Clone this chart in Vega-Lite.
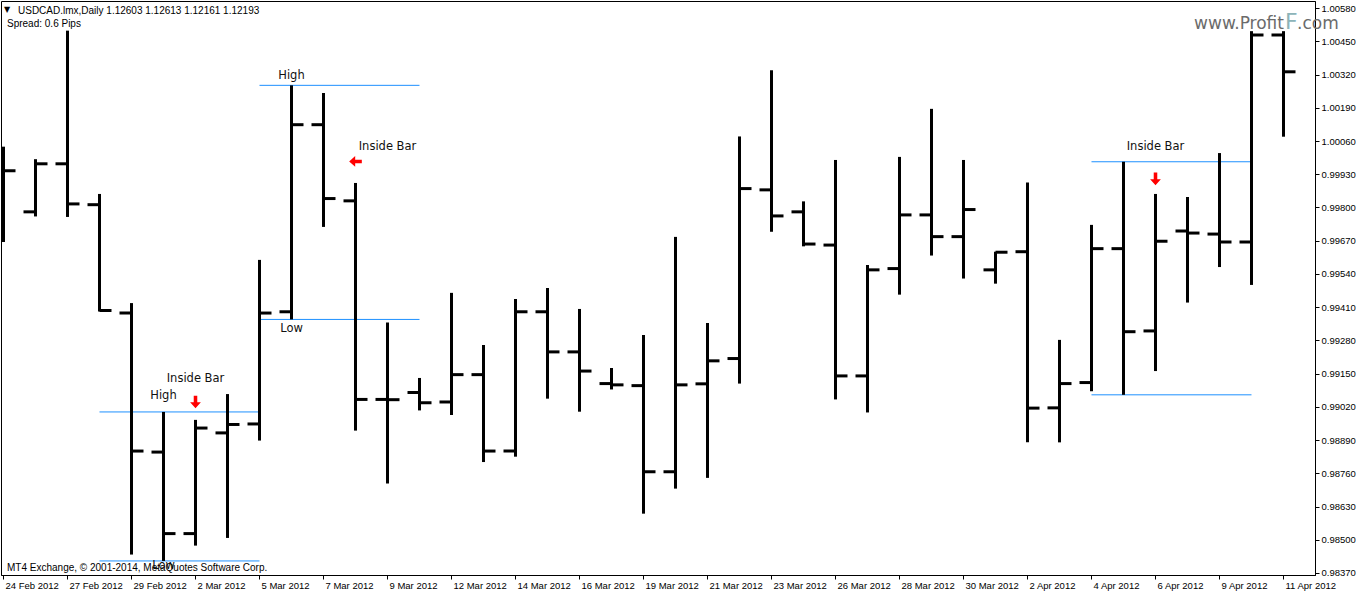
{
  "$schema": "https://vega.github.io/schema/vega-lite/v6.json",
  "width": 1314,
  "height": 574,
  "autosize": {"type": "none"},
  "padding": {"left": 1, "top": 1, "right": 43, "bottom": 19},
  "background": "white",
  "config": {"view": {"stroke": "black", "strokeWidth": 1}, "font": "Liberation Sans"},
  "datasets": {
    "bars": [
      {"date":"24 Feb 2012","open":0.99829,"high":1.00038,"low":0.99665,"close":0.99944},
      {"date":"26 Feb 2012","open":0.99783,"high":0.99989,"low":0.99765,"close":0.99971},
      {"date":"27 Feb 2012","open":0.99971,"high":1.00492,"low":0.99763,"close":0.99814},
      {"date":"28 Feb 2012","open":0.99811,"high":0.99853,"low":0.99393,"close":0.99397},
      {"date":"29 Feb 2012","open":0.99387,"high":0.99426,"low":0.98442,"close":0.98847},
      {"date":"1 Mar 2012","open":0.98843,"high":0.99000,"low":0.98417,"close":0.98524},
      {"date":"2 Mar 2012","open":0.98524,"high":0.98969,"low":0.98477,"close":0.98937},
      {"date":"4 Mar 2012","open":0.98918,"high":0.99070,"low":0.98507,"close":0.98951},
      {"date":"5 Mar 2012","open":0.98953,"high":0.99595,"low":0.98888,"close":0.99387},
      {"date":"6 Mar 2012","open":0.99392,"high":1.00278,"low":0.99362,"close":1.00124},
      {"date":"7 Mar 2012","open":1.00124,"high":1.00248,"low":0.99724,"close":0.99835},
      {"date":"8 Mar 2012","open":0.99826,"high":0.99896,"low":0.98927,"close":0.99049},
      {"date":"9 Mar 2012","open":0.99049,"high":0.99350,"low":0.98720,"close":0.99048},
      {"date":"11 Mar 2012","open":0.99076,"high":0.99133,"low":0.99006,"close":0.99036},
      {"date":"12 Mar 2012","open":0.99039,"high":0.99466,"low":0.98988,"close":0.99146},
      {"date":"13 Mar 2012","open":0.99146,"high":0.99262,"low":0.98804,"close":0.98847},
      {"date":"14 Mar 2012","open":0.98847,"high":0.99442,"low":0.98825,"close":0.99392},
      {"date":"15 Mar 2012","open":0.99392,"high":0.99485,"low":0.99052,"close":0.99235},
      {"date":"16 Mar 2012","open":0.99235,"high":0.99403,"low":0.99001,"close":0.99160},
      {"date":"18 Mar 2012","open":0.99111,"high":0.99172,"low":0.99088,"close":0.99106},
      {"date":"19 Mar 2012","open":0.99103,"high":0.99301,"low":0.98602,"close":0.98766},
      {"date":"20 Mar 2012","open":0.98766,"high":0.99685,"low":0.98700,"close":0.99106},
      {"date":"21 Mar 2012","open":0.99110,"high":0.99348,"low":0.98742,"close":0.99200},
      {"date":"22 Mar 2012","open":0.99209,"high":1.00078,"low":0.99111,"close":0.99874},
      {"date":"23 Mar 2012","open":0.99869,"high":1.00337,"low":0.99705,"close":0.99767},
      {"date":"25 Mar 2012","open":0.99783,"high":0.99824,"low":0.99648,"close":0.99657},
      {"date":"26 Mar 2012","open":0.99653,"high":0.99986,"low":0.99049,"close":0.99141},
      {"date":"27 Mar 2012","open":0.99141,"high":0.99575,"low":0.98998,"close":0.99556},
      {"date":"28 Mar 2012","open":0.99561,"high":0.99998,"low":0.99459,"close":0.99771},
      {"date":"29 Mar 2012","open":0.99771,"high":1.00186,"low":0.99612,"close":0.99686},
      {"date":"30 Mar 2012","open":0.99686,"high":0.99986,"low":0.99522,"close":0.99792},
      {"date":"1 Apr 2012","open":0.99556,"high":0.99627,"low":0.99502,"close":0.99625},
      {"date":"2 Apr 2012","open":0.99627,"high":0.99898,"low":0.98881,"close":0.99015},
      {"date":"3 Apr 2012","open":0.99016,"high":0.99282,"low":0.98881,"close":0.99111},
      {"date":"4 Apr 2012","open":0.99115,"high":0.99732,"low":0.99081,"close":0.99639},
      {"date":"5 Apr 2012","open":0.99639,"high":0.99979,"low":0.99067,"close":0.99314},
      {"date":"6 Apr 2012","open":0.99317,"high":0.99853,"low":0.99160,"close":0.99668},
      {"date":"8 Apr 2012","open":0.99708,"high":0.99841,"low":0.99428,"close":0.99700},
      {"date":"9 Apr 2012","open":0.99696,"high":1.00013,"low":0.99567,"close":0.99665},
      {"date":"10 Apr 2012","open":0.99665,"high":1.00490,"low":0.99497,"close":1.00475},
      {"date":"11 Apr 2012","open":1.00475,"high":1.00490,"low":1.00077,"close":1.00331}
    ],
    "lines": [
      {"date":"28 Feb 2012","date2":"5 Mar 2012","price":0.99000},
      {"date":"28 Feb 2012","date2":"5 Mar 2012","price":0.98417},
      {"date":"5 Mar 2012","date2":"11 Mar 2012","price":1.00278},
      {"date":"5 Mar 2012","date2":"11 Mar 2012","price":0.99362},
      {"date":"4 Apr 2012","date2":"10 Apr 2012","price":0.99979},
      {"date":"4 Apr 2012","date2":"10 Apr 2012","price":0.99067}
    ],
    "notes": [
      {"date":"2 Mar 2012","price":0.99129,"label":"Inside Bar"},
      {"date":"1 Mar 2012","price":0.99063,"label":"High"},
      {"date":"1 Mar 2012","price":0.98397,"label":"Low"},
      {"date":"6 Mar 2012","price":1.00315,"label":"High"},
      {"date":"6 Mar 2012","price":0.99325,"label":"Low"},
      {"date":"9 Mar 2012","price":1.00037,"label":"Inside Bar"},
      {"date":"6 Apr 2012","price":1.00037,"label":"Inside Bar"}
    ],
    "arrows": [
      {"date":"2 Mar 2012","price":0.99039,"dir":"down"},
      {"date":"8 Mar 2012","price":0.99980,"dir":"left"},
      {"date":"6 Apr 2012","price":0.99912,"dir":"down"}
    ],
    "one": [{}]
  },
  "encoding": {
    "x": {
      "field": "date",
      "type": "ordinal",
      "scale": {
        "type": "point",
        "domain": ["24 Feb 2012","26 Feb 2012","27 Feb 2012","28 Feb 2012","29 Feb 2012","1 Mar 2012","2 Mar 2012","4 Mar 2012","5 Mar 2012","6 Mar 2012","7 Mar 2012","8 Mar 2012","9 Mar 2012","11 Mar 2012","12 Mar 2012","13 Mar 2012","14 Mar 2012","15 Mar 2012","16 Mar 2012","18 Mar 2012","19 Mar 2012","20 Mar 2012","21 Mar 2012","22 Mar 2012","23 Mar 2012","25 Mar 2012","26 Mar 2012","27 Mar 2012","28 Mar 2012","29 Mar 2012","30 Mar 2012","1 Apr 2012","2 Apr 2012","3 Apr 2012","4 Apr 2012","5 Apr 2012","6 Apr 2012","8 Apr 2012","9 Apr 2012","10 Apr 2012","11 Apr 2012"],
        "padding": 0.53125,
        "align": 0.0735,
        "round": false
      },
      "axis": {
        "values": ["24 Feb 2012","27 Feb 2012","29 Feb 2012","2 Mar 2012","5 Mar 2012","7 Mar 2012","9 Mar 2012","12 Mar 2012","14 Mar 2012","16 Mar 2012","19 Mar 2012","21 Mar 2012","23 Mar 2012","26 Mar 2012","28 Mar 2012","30 Mar 2012","2 Apr 2012","4 Apr 2012","6 Apr 2012","9 Apr 2012","11 Apr 2012"],
        "title": null,
        "labelAlign": "left",
        "labelOffset": 1.5,
        "labelPadding": 1,
        "labelBaseline": "top",
        "labelAngle": 0,
        "labelOverlap": false,
        "tickSize": 4,
        "tickColor": "black",
        "domainColor": "black",
        "labelColor": "black",
        "labelFont": "Liberation Sans",
        "labelFontSize": 9.5,
        "grid": false
      }
    }
  },
  "layer": [
    {
      "data": {"name": "lines"},
      "mark": {"type": "rule", "color": "#1e90ff", "strokeWidth": 1},
      "encoding": {
        "x2": {"field": "date2"},
        "y": {"field": "price", "type": "quantitative", "scale": {"domain": [0.98362, 1.00608], "zero": false, "nice": false}, "axis": {
          "orient": "right",
          "values": [0.9837,0.985,0.9863,0.9876,0.9889,0.9902,0.9915,0.9928,0.9941,0.9954,0.9967,0.998,0.9993,1.0006,1.0019,1.0032,1.0045,1.0058],
          "tickCount": 40,
          "format": ".5f",
          "title": null,
          "tickSize": 4,
          "labelPadding": 2,
          "tickColor": "black",
          "domainColor": "black",
          "labelColor": "black",
          "labelFont": "Liberation Sans",
          "labelFontSize": 9.5,
          "labelBaseline": "middle",
          "labelOverlap": false,
          "labelBound": false,
          "labelFlush": false,
          "grid": false
        }}
      }
    },
    {
      "data": {"name": "bars"},
      "mark": {"type": "rule", "color": "black", "strokeWidth": 3, "clip": true},
      "encoding": {
        "y": {"field": "low", "type": "quantitative"},
        "y2": {"field": "high"}
      }
    },
    {
      "data": {"name": "bars"},
      "mark": {"type": "tick", "color": "black", "thickness": 3, "size": 12, "xOffset": -6, "clip": true, "opacity": 1},
      "encoding": {
        "y": {"field": "open", "type": "quantitative"}
      }
    },
    {
      "data": {"name": "bars"},
      "mark": {"type": "tick", "color": "black", "thickness": 3, "size": 12, "xOffset": 6, "clip": true, "opacity": 1},
      "encoding": {
        "y": {"field": "close", "type": "quantitative"}
      }
    },
    {
      "data": {"name": "notes"},
      "mark": {"type": "text", "font": "DejaVu Sans", "fontSize": 11.5, "color": "#111111", "align": "center", "baseline": "middle"},
      "encoding": {
        "y": {"field": "price", "type": "quantitative"},
        "text": {"field": "label"}
      }
    },
    {
      "data": {"name": "arrows"},
      "mark": {"type": "point", "filled": true, "color": "#ff0000", "opacity": 1, "size": 160, "shape": "M-0.28,-1L0.28,-1L0.28,0.05L0.85,0.05L0,1L-0.85,0.05L-0.28,0.05Z"},
      "encoding": {
        "y": {"field": "price", "type": "quantitative"},
        "angle": {"field": "dir", "type": "nominal", "scale": {"domain": ["down", "left"], "range": [0, 90]}, "legend": null}
      }
    },
    {
      "data": {"name": "one"},
      "mark": {"type": "text", "text": "▼", "font": "DejaVu Sans", "fontSize": 8, "color": "black", "align": "center", "baseline": "middle", "dx": 3.5},
      "encoding": {
        "x": {"datum": "24 Feb 2012", "type": "ordinal"},
        "y": {"datum": 1.00571, "type": "quantitative"}
      }
    },
    {
      "data": {"name": "one"},
      "mark": {"type": "text", "text": "USDCAD.lmx,Daily  1.12603 1.12613 1.12161 1.12193", "font": "Liberation Sans", "fontSize": 10, "color": "black", "align": "left", "baseline": "alphabetic", "dx": 14.5},
      "encoding": {
        "x": {"datum": "24 Feb 2012", "type": "ordinal"},
        "y": {"datum": 1.00557, "type": "quantitative"}
      }
    },
    {
      "data": {"name": "one"},
      "mark": {"type": "text", "text": "Spread: 0.6 Pips", "font": "Liberation Sans", "fontSize": 10, "color": "black", "align": "left", "baseline": "alphabetic", "dx": 3.5},
      "encoding": {
        "x": {"datum": "24 Feb 2012", "type": "ordinal"},
        "y": {"datum": 1.00506, "type": "quantitative"}
      }
    },
    {
      "data": {"name": "one"},
      "mark": {"type": "text", "text": "MT4 Exchange, © 2001-2014, MetaQuotes Software Corp.", "font": "Liberation Sans", "fontSize": 10, "color": "black", "align": "left", "baseline": "alphabetic", "dx": 3.5},
      "encoding": {
        "x": {"datum": "24 Feb 2012", "type": "ordinal"},
        "y": {"datum": 0.98378, "type": "quantitative"}
      }
    },
    {
      "data": {"name": "one"},
      "mark": {"type": "text", "text": "www.Profit", "font": "DejaVu Sans", "fontSize": 17, "color": "#6b6b6b", "align": "right", "baseline": "alphabetic", "dx": 0.5},
      "encoding": {
        "x": {"datum": "11 Apr 2012", "type": "ordinal"},
        "y": {"datum": 1.00499, "type": "quantitative"}
      }
    },
    {
      "data": {"name": "one"},
      "mark": {"type": "text", "text": "F", "font": "DejaVu Sans", "fontSize": 22, "color": "#8db4b9", "align": "left", "baseline": "alphabetic", "dx": 1.5},
      "encoding": {
        "x": {"datum": "11 Apr 2012", "type": "ordinal"},
        "y": {"datum": 1.00499, "type": "quantitative"}
      }
    },
    {
      "data": {"name": "one"},
      "mark": {"type": "text", "text": ".com", "font": "DejaVu Sans", "fontSize": 17, "color": "#6b6b6b", "align": "left", "baseline": "alphabetic", "dx": 13.5},
      "encoding": {
        "x": {"datum": "11 Apr 2012", "type": "ordinal"},
        "y": {"datum": 1.00499, "type": "quantitative"}
      }
    }
  ]
}
